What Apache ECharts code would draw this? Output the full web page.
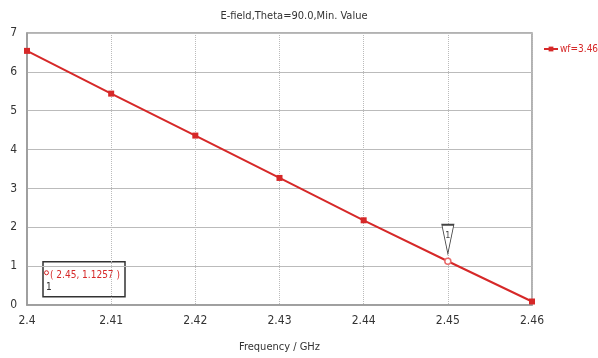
<!DOCTYPE html>
<html>
<head>
<meta charset="utf-8">
<script src="https://cdn.jsdelivr.net/npm/echarts@6/dist/echarts.min.js"></script>
<style>
  html, body { margin: 0; padding: 0; background: #fff; }
  #chart { width: 598px; height: 358px; }
</style>
</head>
<body>
<div id="chart"></div>
<script>
const freqs = ["2.4", "2.41", "2.42", "2.43", "2.44", "2.45", "2.46"];
const efield = [6.54, 5.44, 4.36, 3.27, 2.18, 1.1257, 0.09];
const yTicks = [0, 1, 2, 3, 4, 5, 6, 7];
const seriesName = "wf=3.46";
const markerFreq = "2.45";
const markerValue = 1.1257;

const font = "'DejaVu Sans Condensed', 'Liberation Sans Narrow', sans-serif";
const red = "#d62828";

const chart = echarts.init(document.getElementById("chart"));

const option = {
  animation: false,
  backgroundColor: "#fff",
  title: {
    text: "E-field,Theta=90.0,Min. Value",
    left: 289,
    top: 6,
    textAlign: "center",
    textStyle: { fontFamily: font, fontSize: 11, fontWeight: "normal", color: "#333" },
  },
  legend: {
    left: 538,
    top: 39,
    itemWidth: 14,
    itemHeight: 6,
    itemGap: 2,
    textStyle: { fontFamily: font, fontSize: 10, color: red, padding: [0, 0, 0, -3] },
    data: [seriesName],
  },
  grid: {
    left: 27, right: 66, top: 33, bottom: 53,
    show: true, borderColor: "#999", borderWidth: 1.5,
  },
  xAxis: {
    type: "category",
    boundaryGap: false,
    data: freqs,
    name: "Frequency / GHz",
    nameLocation: "middle",
    nameGap: 37,
    nameTextStyle: { fontFamily: font, fontSize: 11, color: "#333" },
    axisLine: { lineStyle: { color: "#999", width: 1.5 } },
    axisTick: { show: false },
    axisLabel: { fontFamily: font, fontSize: 12, color: "#333", margin: 10 },
    splitLine: { show: true, lineStyle: { color: "#bbb", type: "dotted" } },
  },
  yAxis: {
    type: "value",
    min: yTicks[0],
    max: yTicks[yTicks.length - 1],
    interval: 1,
    axisLine: { show: true, lineStyle: { color: "#999", width: 1.5 } },
    axisTick: { show: false },
    axisLabel: { fontFamily: font, fontSize: 12, color: "#333", margin: 10 },
    splitLine: { lineStyle: { color: "#bbb", width: 1.2 } },
  },
  series: [
    {
      name: seriesName,
      type: "line",
      data: efield.map((v, i) =>
        freqs[i] === markerFreq
          ? { value: v, itemStyle: { color: "#fff", borderColor: "#e86a6a", borderWidth: 1.5 }, symbol: "circle", symbolSize: 6 }
          : v
      ),
      symbol: "rect",
      symbolSize: 6,
      itemStyle: { color: red },
      lineStyle: { color: red, width: 2 },
      markPoint: {
        symbol: "path://M0,0 L12,0 L6,30 Z",
        symbolSize: [12, 29],
        symbolOffset: [0, -22],
        itemStyle: { color: "#fff", borderColor: "#444", borderWidth: 1.2 },
        label: { show: true, formatter: "1", fontFamily: font, fontSize: 9, color: "#444", offset: [0, -4] },
        data: [{ coord: [markerFreq, markerValue] }],
      },
    },
  ],
  graphic: [
    {
      type: "group",
      left: 42,
      top: 261,
      children: [
        {
          type: "rect",
          shape: { width: 82, height: 35 },
          style: { fill: "#fff", stroke: "#333", lineWidth: 1.5 },
        },
        {
          type: "circle",
          shape: { cx: 3.5, cy: 11, r: 2 },
          style: { fill: "none", stroke: red, lineWidth: 1 },
        },
        {
          type: "text",
          x: 3,
          y: 21,
          style: { text: "1", fontFamily: font, fontSize: 10, fill: "#333" },
        },
        {
          type: "text",
          x: 7,
          y: 9,
          style: { text: "( 2.45, 1.1257 )", fontFamily: font, fontSize: 10, fill: red },
        },
      ],
      z: 10,
    },
  ],
};

chart.setOption(option);
</script>
</body>
</html>
